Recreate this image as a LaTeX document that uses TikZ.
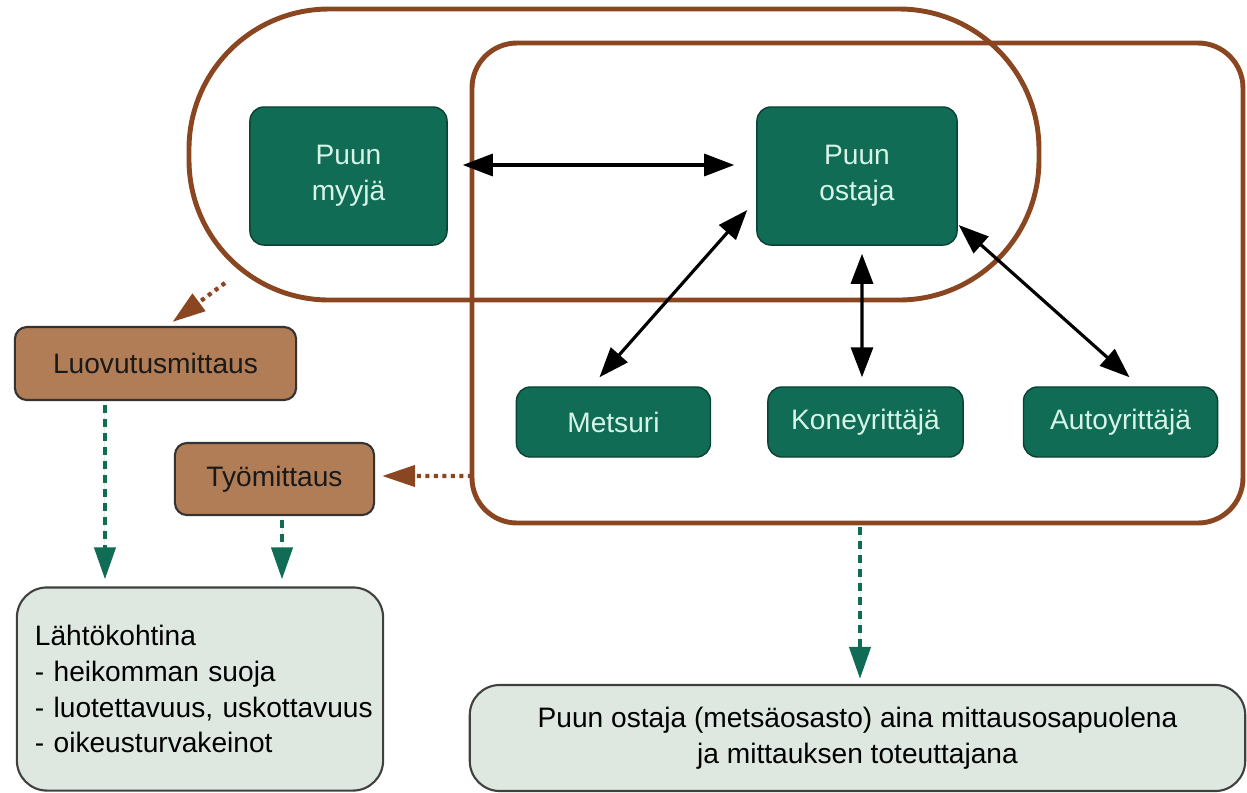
\documentclass[tikz,border=0pt]{standalone}
\usepackage{fontspec}
\setmainfont{Liberation Sans}
\usetikzlibrary{arrows.meta, positioning}
\definecolor{forestgreen}{RGB}{16,108,84}
\definecolor{mintlight}{RGB}{214,244,232}
\definecolor{mintpale}{RGB}{222,232,225}
\definecolor{barkbrown}{RGB}{176,125,86}
\definecolor{rimbrown}{RGB}{138,70,32}

\begin{document}
\begin{tikzpicture}[x=0.01cm, y=-0.01cm, font=\fontsize{8}{10.2}\selectfont, node distance=0.56cm,
    g/.style={draw=forestgreen!60!black, fill=forestgreen, text=mintlight, rounded corners=0.14cm, align=center, inner sep=0pt},
    br/.style={draw=black!80, fill=barkbrown, text=black!90, rounded corners=0.12cm, inner sep=0pt, line width=0.6pt},
    pale/.style={draw=black!75, fill=mintpale, rounded corners=0.3cm, inner sep=0pt, line width=0.6pt},
    rim/.style={draw=rimbrown, line width=1.4pt},
    dbl/.style={{Triangle[length=0.3cm, width=0.22cm]}-{Triangle[length=0.3cm, width=0.22cm]}, line width=0.9pt},
    dots/.style={-{Triangle[length=0.33cm, width=0.21cm]}, draw=rimbrown, fill=rimbrown, line width=1.2pt, dash pattern=on 0.04cm off 0.045cm},
    gdash/.style={-{Triangle[length=0.32cm, width=0.21cm]}, draw=forestgreen, fill=forestgreen, line width=1.2pt, dash pattern=on 0.08cm off 0.06cm}]
    \useasboundingbox (0,0) rectangle (1247,793);
    % frames
    \draw[rim, rounded corners=1.4cm] (189,9) rectangle (1039,300);
    \draw[rim, rounded corners=0.45cm] (472,43) rectangle (1243,523);
    \coordinate (myyntiraja) at (225,283);
    \coordinate (ostovasen) at (472,476);
    \coordinate (ostoala) at (860,523);
    % parties
    \node[g, minimum width=1.97cm, minimum height=1.38cm] (myyja) at (348.5,176) {Puun\\myyjä};
    \node[g, minimum width=2.0cm, minimum height=1.38cm] (ostaja) at (857,176) {Puun\\ostaja};
    \node[g, minimum width=1.95cm, minimum height=0.7cm] (kone) at (865.5,422) {Koneyrittäjä};
    \node[g, minimum width=1.94cm, minimum height=0.7cm, left=of kone] (metsuri) {Metsuri};
    \node[g, minimum width=1.94cm, minimum height=0.7cm, right=0.59cm of kone] (auto) {Autoyrittäjä};
    % measurements
    \node[br, minimum width=2.81cm, minimum height=0.73cm] (luovutus) at (155.5,363.5) {Luovutusmittaus};
    \node[br, minimum width=1.99cm, minimum height=0.72cm] (tyo) at (274.5,479) {Työmittaus};
    \node[pale, minimum width=3.66cm, minimum height=2.03cm, text width=3.3cm, inner xsep=0.18cm, align=left] (lahto) at (200,689)
        {Lähtökohtina\\- heikomman suoja\\\mbox{- luotettavuus, uskottavuus}\\- oikeusturvakeinot};
    \node[pale, minimum width=7.75cm, minimum height=1.06cm, align=center] (toteuttaja) at (857.5,738)
        {Puun ostaja (metsäosasto) aina mittausosapuolena\\ja mittauksen toteuttajana};
    % relations
    \draw[dbl] ([xshift=0.15cm, yshift=0.11cm]myyja.east) -- ([xshift=-0.22cm, yshift=0.11cm]ostaja.west);
    \draw[dbl] ([xshift=-0.09cm, yshift=-0.34cm]ostaja.west) -- ([xshift=-0.14cm, yshift=0.09cm]metsuri.north);
    \draw[dbl] ([xshift=0.05cm, yshift=-0.08cm]ostaja.south) -- ([xshift=-0.035cm, yshift=0.09cm]kone.north);
    \draw[dbl] ([xshift=0.01cm, yshift=-0.49cm]ostaja.east) -- ([xshift=0.09cm, yshift=0.09cm]auto.north);
    \draw[dots] (myyntiraja) -- ([xshift=0.17cm, yshift=0.04cm]luovutus.north);
    \draw[dots] (ostovasen) -- ([xshift=0.07cm, yshift=0.03cm]tyo.east);
    \draw[gdash, shorten <=0.04cm, shorten >=0.07cm] ([xshift=-0.505cm]luovutus.south) -- ([xshift=-0.505cm]luovutus.south |- lahto.north);
    \draw[gdash, shorten <=0.04cm, shorten >=0.07cm] ([xshift=0.075cm]tyo.south) -- ([xshift=0.075cm]tyo.south |- lahto.north);
    \draw[gdash, shorten <=0.04cm, shorten >=0.05cm] (ostoala) -- (ostoala |- toteuttaja.north);
\end{tikzpicture}
\end{document}
